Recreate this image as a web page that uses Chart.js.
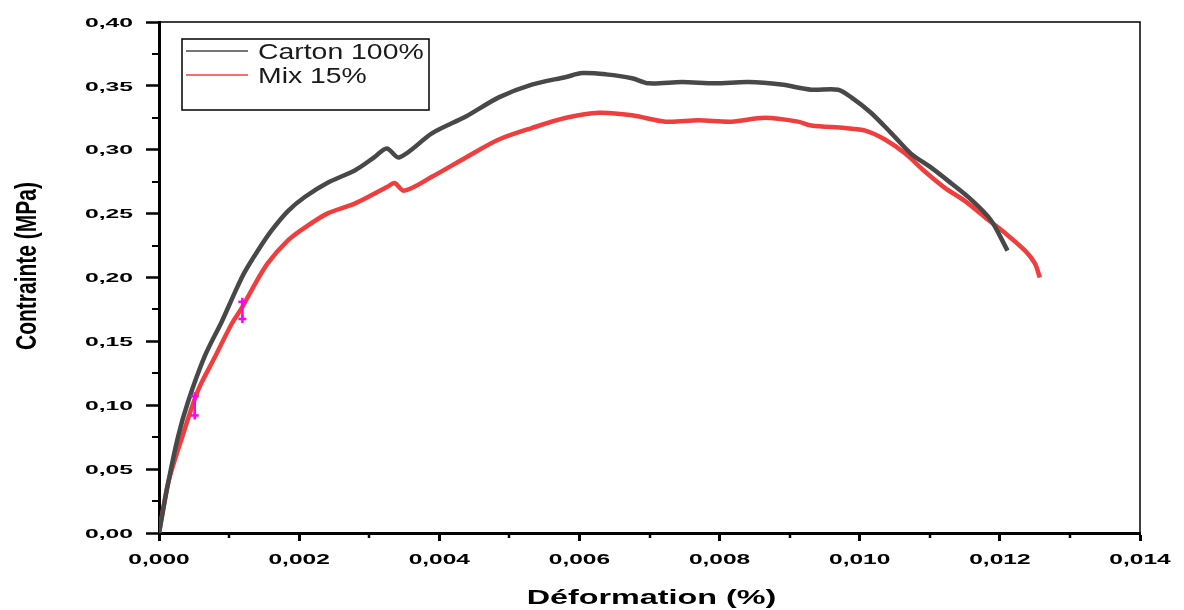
<!DOCTYPE html>
<html lang="fr">
<head>
<meta charset="utf-8">
<title>Contrainte - Déformation</title>
<script src="https://cdn.jsdelivr.net/npm/chart.js@4.4.1/dist/chart.umd.min.js"></script>
<style>
  html, body { margin: 0; padding: 0; background: #fff; }
  #wrap { width: 1184px; height: 610px; position: relative; }
</style>
</head>
<body>
<div id="wrap"><canvas id="chartEssai"></canvas></div>
<script>
// Courbe Carton 100%
const deformationCarton = [0, 0.00013, 0.00027, 0.00041, 0.00065, 0.0009, 0.00108, 0.00122, 0.00141, 0.00161,
  0.00184, 0.00208, 0.0024, 0.0028, 0.00307, 0.00325, 0.00343, 0.0039, 0.00438, 0.00485,
  0.00532, 0.00581, 0.00604, 0.00638, 0.00675, 0.00699, 0.00746, 0.00794, 0.00841, 0.00888,
  0.00931, 0.00969, 0.00988, 0.01016, 0.01045, 0.01073, 0.01102, 0.0113, 0.01159, 0.01187, 0.01211];
const contrainteCarton = [0, 0.039, 0.075, 0.102, 0.138, 0.166, 0.188, 0.204, 0.221, 0.237,
  0.252, 0.263, 0.274, 0.284, 0.294, 0.301, 0.294, 0.313, 0.326, 0.341,
  0.351, 0.357, 0.360, 0.359, 0.356, 0.352, 0.353, 0.352, 0.353, 0.351,
  0.347, 0.347, 0.341, 0.329, 0.313, 0.297, 0.286, 0.274, 0.261, 0.245, 0.221];

// Courbe Mix 15%
const deformationMix = [0, 0.00013, 0.00033, 0.00056, 0.0008, 0.00104, 0.00118, 0.00132, 0.00155, 0.00184,
  0.00208, 0.0024, 0.0028, 0.00326, 0.00336, 0.0035, 0.0039, 0.00438, 0.00485, 0.00532,
  0.00581, 0.00628, 0.00675, 0.00723, 0.0077, 0.00817, 0.00865, 0.00912, 0.00931, 0.00979,
  0.01008, 0.01036, 0.01065, 0.01093, 0.01122, 0.0115, 0.01179, 0.01207, 0.01236, 0.0125, 0.01257];
const contrainteMix = [0, 0.039, 0.075, 0.112, 0.138, 0.164, 0.176, 0.190, 0.211, 0.229,
  0.239, 0.250, 0.258, 0.271, 0.274, 0.268, 0.279, 0.294, 0.308, 0.317,
  0.325, 0.329, 0.327, 0.322, 0.323, 0.322, 0.325, 0.322, 0.319, 0.317,
  0.315, 0.308, 0.297, 0.283, 0.270, 0.260, 0.247, 0.235, 0.221, 0.211, 0.200];

// Barres d'erreur (magenta)
const erreurDeformation = [0.00051, 0.00119];
const erreurBas = [0.092, 0.1675];
const erreurHaut = [0.107, 0.181];

const libelles = ['Carton 100%', 'Mix 15%'];
const couleurs = ['#484848', '#f03e3e'];

const points = (xs, ys) => xs.map((x, i) => ({ x: x, y: ys[i] }));
const virgule = (v, d) => v.toFixed(d).replace('.', ',');

// Texte étiré horizontalement comme dans l'image d'origine
function texteEtire(ctx, txt, x, y, etirement, align) {
    ctx.save();
    ctx.translate(x, y);
    ctx.scale(etirement, 1);
    ctx.textAlign = align;
    ctx.fillText(txt, 0, 0);
    ctx.restore();
}

// Graduations, libellés, cadre, légende et titres
const decor = {
    id: 'decor',
    afterDraw(chart) {
        const ctx = chart.ctx;
        const { left, right, top, bottom } = chart.chartArea;
        const sx = chart.scales.x, sy = chart.scales.y;
        ctx.save();
        ctx.strokeStyle = '#000';
        ctx.fillStyle = '#000';

        // graduations mineures
        ctx.lineWidth = 2.5;
        sx.ticks.forEach((t, i) => {
            if (i % 2 === 1) {
                const px = Math.round(sx.getPixelForValue(t.value));
                ctx.beginPath(); ctx.moveTo(px, bottom); ctx.lineTo(px, bottom + 5); ctx.stroke();
            }
        });
        ctx.lineWidth = 2;
        sy.ticks.forEach((t, i) => {
            if (i % 2 === 1) {
                const py = Math.round(sy.getPixelForValue(t.value));
                ctx.beginPath(); ctx.moveTo(left, py); ctx.lineTo(left - 7, py); ctx.stroke();
            }
        });

        // libellés des graduations
        ctx.textBaseline = 'alphabetic';
        ctx.font = 'bold 13px "Liberation Sans", Arial, sans-serif';
        sy.ticks.forEach((t) => {
            if (t.label) {
                const py = sy.getPixelForValue(t.value);
                texteEtire(ctx, t.label, 133, py + 4.7, 1.9, 'right');
            }
        });
        ctx.font = 'bold 14px "Liberation Sans", Arial, sans-serif';
        sx.ticks.forEach((t) => {
            if (t.label) {
                const px = sx.getPixelForValue(t.value);
                texteEtire(ctx, t.label, px, 563.5, 1.75, 'center');
            }
        });

        // titre de l'axe X
        ctx.font = 'bold 21px "Liberation Sans", Arial, sans-serif';
        texteEtire(ctx, 'Déformation (%)', (left + right) / 2 + 2, 603.5, 1.54, 'center');

        // cadre haut et droite
        ctx.lineWidth = 1.5;
        ctx.beginPath();
        ctx.moveTo(left, top); ctx.lineTo(right, top); ctx.lineTo(right, bottom);
        ctx.stroke();

        // légende
        ctx.strokeRect(182, 39, 247, 71);
        const lignes = [51, 75];
        ctx.font = '22px "Liberation Sans", Arial, sans-serif';
        libelles.forEach((lib, i) => {
            ctx.strokeStyle = couleurs[i];
            ctx.lineWidth = 1.5;
            ctx.beginPath(); ctx.moveTo(186, lignes[i]); ctx.lineTo(248, lignes[i]); ctx.stroke();
            ctx.fillStyle = '#1a1a1a';
            texteEtire(ctx, lib, 258, lignes[i] + 8, 1.29, 'left');
        });

        // titre de l'axe Y
        ctx.translate(28, 266);
        ctx.rotate(-Math.PI / 2);
        ctx.scale(1, 1.4);
        ctx.font = 'bold 21px "Liberation Sans", Arial, sans-serif';
        ctx.textAlign = 'center';
        ctx.textBaseline = 'middle';
        ctx.fillStyle = '#000';
        ctx.fillText('Contrainte (MPa)', 0, 0);
        ctx.restore();
    }
};

const jeux = [
    {
        label: libelles[0],
        data: points(deformationCarton, contrainteCarton),
        borderColor: couleurs[0],
        backgroundColor: couleurs[0],
        borderWidth: 4.5,
        pointRadius: 0,
        tension: 0.3,
        order: 1
    },
    {
        label: libelles[1],
        data: points(deformationMix, contrainteMix),
        borderColor: couleurs[1],
        backgroundColor: couleurs[1],
        borderWidth: 4.5,
        pointRadius: 0,
        tension: 0.3,
        order: 2
    }
];
erreurDeformation.forEach((x, i) => {
    jeux.push({
        label: 'erreur' + i,
        data: [{ x: x, y: erreurBas[i] }, { x: x, y: erreurHaut[i] }],
        borderColor: '#ff00ff',
        backgroundColor: '#ff00ff',
        borderWidth: 2.5,
        pointStyle: 'cross',
        pointBorderWidth: 2.5,
        pointRadius: 4,
        tension: 0,
        order: 0
    });
});

const ctxEssai = document.getElementById('chartEssai').getContext('2d');
new Chart(ctxEssai, {
    type: 'line',
    data: { datasets: jeux },
    options: {
        responsive: true,
        maintainAspectRatio: false,
        animation: false,
        layout: { padding: { left: 0, top: 22, right: 44, bottom: 0 } },
        plugins: {
            legend: { display: false },
            tooltip: { enabled: false }
        },
        scales: {
            x: {
                type: 'linear',
                min: 0,
                max: 0.014,
                afterFit: (s) => { s.height = 77; },
                ticks: {
                    display: false,
                    stepSize: 0.001,
                    autoSkip: false,
                    maxRotation: 0,
                    callback: (v, i) => (i % 2 === 0 ? virgule(v, 3) : '')
                },
                grid: {
                    drawOnChartArea: false,
                    drawTicks: true,
                    tickLength: 8,
                    tickWidth: 3,
                    tickColor: (c) => (c.index % 2 === 0 ? '#000' : 'rgba(0,0,0,0)')
                },
                border: { display: true, color: '#000', width: 3 },
                title: { display: false }
            },
            y: {
                type: 'linear',
                min: 0,
                max: 0.4,
                afterFit: (s) => { s.width = 159; },
                ticks: {
                    display: false,
                    stepSize: 0.025,
                    autoSkip: false,
                    callback: (v, i) => (i % 2 === 0 ? virgule(v, 2) : '')
                },
                grid: {
                    drawOnChartArea: false,
                    drawTicks: true,
                    tickLength: 13,
                    tickWidth: 2.5,
                    tickColor: (c) => (c.index % 2 === 0 ? '#000' : 'rgba(0,0,0,0)')
                },
                border: { display: true, color: '#000', width: 3 },
                title: { display: false }
            }
        }
    },
    plugins: [decor]
});
</script>
</body>
</html>
